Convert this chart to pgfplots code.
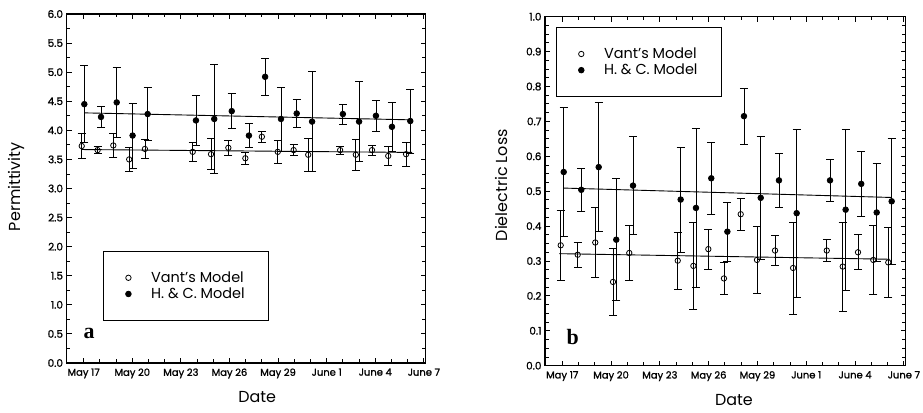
\documentclass[border=0pt]{standalone}
\usepackage{fontspec}
\setmainfont{Poppins}
\newfontfamily\tickfont[FakeBold=1.2]{Poppins}
\newfontfamily\panelfont{Liberation Serif}
\usepackage{pgfplots}
\pgfplotsset{compat=1.18}

\pgfplotsset{
  panel/.style={
    scale only axis, width=359bp, height=349bp,
    xmin=-1.06, xmax=21.1,
    xtick={0,3,...,21},
    xticklabels={May 17,May 20,May 23,May 26,May 29,June 1,June 4,June 7},
    minor x tick num=2,
    axis line style={line width=1.3bp},
    major tick length=5bp, minor tick length=3.5bp,
    every tick/.style={black, line width=0.9bp},
    xticklabel style={font=\tickfont\fontsize{10}{12}\selectfont, yshift=-2bp},
    yticklabel style={font=\tickfont\fontsize{10.5}{12}\selectfont,
      /pgf/number format/fixed, /pgf/number format/fixed zerofill,
      /pgf/number format/precision=1},
    /pgf/number format/assume math mode=true,
    label style={font=\fontsize{16}{18}\selectfont},
    legend style={draw=black, line width=1bp, font=\fontsize{14.5}{15.5}\selectfont,
      inner xsep=22bp, inner ysep=18.6bp, anchor=north west,
      /tikz/every odd column/.append style={column sep=18bp}},
    legend cell align=left,
  },
  vant/.style={only marks, mark=o, mark size=2.7bp, line width=0.8bp, black,
    error bars/.cd, y dir=both, y explicit,
    error bar style={line width=0.8bp},
    error mark options={rotate=90, mark size=4bp, line width=0.8bp}},
  hc/.style={only marks, mark=*, mark size=2.8bp, line width=0.8bp, black,
    error bars/.cd, y dir=both, y explicit,
    error bar style={line width=0.8bp},
    error mark options={rotate=90, mark size=4bp, line width=0.8bp}},
  fit/.style={black, line width=0.9bp, no marks, forget plot},
}

\begin{document}
\begin{tikzpicture}
\path[use as bounding box] (0,0) rectangle (923bp,413bp);

% ---- panel a: permittivity
\begin{axis}[panel, at={(66.5bp,50bp)}, anchor=south west,
  ymin=0, ymax=6, ytick={0,0.5,...,6}, minor y tick num=1,
  xlabel={Date}, ylabel={Permittivity},
  xlabel style={at={(axis description cs:0.531,-0.097)}, anchor=center},
  ylabel style={at={(axis description cs:-0.138,0.505)}, anchor=center},
  legend style={at={(axis description cs:0.102,0.322)}}]
\addplot[vant] table[x=x, y=y, y error=e] {
x y e
-0.12 3.73 0.215
0.86 3.66 0.065
1.83 3.74 0.21
2.81 3.50 0.20
3.78 3.68 0.165
6.73 3.63 0.17
7.86 3.59 0.27
8.93 3.70 0.13
9.98 3.52 0.10
11.0 3.89 0.10
11.98 3.63 0.20
12.96 3.66 0.095
13.86 3.58 0.28
15.83 3.66 0.07
16.8 3.58 0.265
17.8 3.66 0.085
18.8 3.56 0.16
19.9 3.59 0.205
};
\addplot[hc] table[x=x, y=y, y error=e] {
x y e
0.04 4.45 0.66
1.07 4.23 0.175
2.04 4.48 0.605
3.02 3.91 0.56
3.95 4.28 0.45
6.93 4.17 0.43
8.06 4.195 0.93
9.14 4.33 0.30
10.2 3.91 0.205
11.2 4.92 0.315
12.18 4.195 0.55
13.15 4.29 0.235
14.1 4.15 0.86
16.0 4.28 0.17
17.0 4.15 0.69
18.04 4.25 0.27
19.03 4.06 0.415
20.16 4.16 0.55
};
\addplot[fit] coordinates {(0.08,4.30) (20.28,4.18)};
\addplot[fit] coordinates {(-0.12,3.67) (20.28,3.62)};
\legend{Vant's Model, H. \& C. Model}
\node[font=\panelfont\bfseries\fontsize{22}{22}\selectfont]
  at (axis description cs:0.063,0.086) {a};
\end{axis}

% ---- panel b: dielectric loss
\begin{axis}[panel, at={(545bp,47.3bp)}, anchor=south west, width=360.5bp,
  ymin=0, ymax=1, ytick={0,0.1,...,1.0}, minor y tick num=3,
  xlabel={Date}, ylabel={Dielectric Loss},
  xlabel style={at={(axis description cs:0.524,-0.098)}, anchor=center},
  ylabel style={at={(axis description cs:-0.122,0.517)}, anchor=center},
  legend style={at={(axis description cs:0.0305,0.971)}}]
\addplot[vant] table[x=x, y=y, y error=e] {
x y e
-0.095 0.345 0.10
0.95 0.318 0.035
2.03 0.353 0.10
3.12 0.240 0.095
4.12 0.323 0.078
7.10 0.301 0.081
8.06 0.286 0.126
8.98 0.334 0.057
9.94 0.250 0.045
10.97 0.434 0.046
11.97 0.303 0.097
13.08 0.330 0.042
14.19 0.280 0.132
16.26 0.330 0.032
17.24 0.284 0.127
18.18 0.325 0.05
19.12 0.303 0.10
20.04 0.296 0.10
};
\addplot[hc] table[x=x, y=y, y error=e] {
x y e
0.09 0.555 0.185
1.17 0.504 0.062
2.24 0.569 0.185
3.32 0.361 0.175
4.35 0.516 0.14
7.28 0.476 0.15
8.22 0.452 0.227
9.16 0.537 0.103
10.15 0.384 0.085
11.17 0.715 0.08
12.20 0.481 0.175
13.32 0.531 0.077
14.41 0.437 0.24
16.46 0.531 0.06
17.42 0.447 0.231
18.38 0.521 0.092
19.33 0.439 0.14
20.25 0.471 0.18
};
\addplot[fit] coordinates {(0.06,0.509) (20.25,0.482)};
\addplot[fit] coordinates {(-0.18,0.321) (20.15,0.305)};
\legend{Vant's Model, H. \& C. Model}
\node[font=\panelfont\bfseries\fontsize{22}{22}\selectfont]
  at (axis description cs:0.077,0.083) {b};
\end{axis}
\end{tikzpicture}
\end{document}
